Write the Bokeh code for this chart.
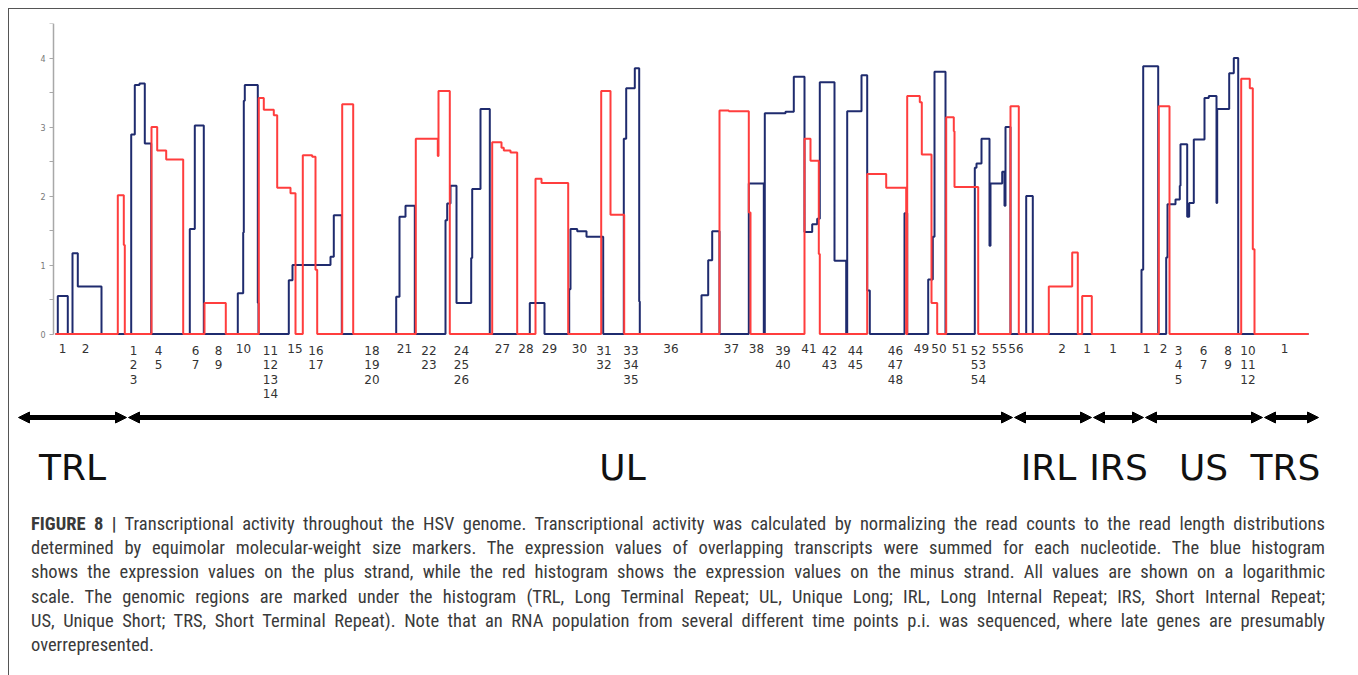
from bokeh.plotting import figure
from bokeh.models import (Range1d, FixedTicker, Arrow, NormalHead, ColumnDataSource, Div,
                          LabelSet, LinearAxis)
from bokeh.layouts import column
from bokeh.core.properties import value
from bokeh.embed import file_html
from bokeh.resources import INLINE

# ---------------- data (genome position in plot units, log expression) ----------------
blue_x = [55, 57.3, 67.3, 72, 77.3, 101, 130.7, 134.3, 139, 144.3, 150.7, 189.3, 194.3, 203.3,
          237.3, 242.7, 243.3, 244.3, 257.3, 258, 288.3, 292, 330, 333.3, 341.3, 395.7, 399, 405,
          414.3, 445, 446.7, 450, 456, 470.7, 471.7, 480, 489.3, 529.3, 544, 568.7, 570, 576.7,
          586, 602.7, 623.3, 625.7, 634.3, 638.7, 639.3, 701, 707.7, 711.7, 719, 748.3, 763.3,
          764.3, 785, 793.3, 804, 811.7, 816.7, 819.3, 834, 845.7, 846.7, 861, 866.7, 869.3, 904,
          906.7, 927.7, 932.3, 934, 945, 974.3, 976, 981, 989, 990, 1001.7, 1004, 1005, 1010,
          1025.7, 1032.3, 1141, 1142.7, 1157.7, 1165.7, 1167, 1175, 1179.3, 1180, 1186.7, 1188.7,
          1193.3, 1204, 1208.3, 1216, 1216.7, 1228.7, 1233.3, 1237.7, 1308]
blue_y = [0, 0.55, 0, 1.17, 0.69, 0, 2.89, 3.61, 3.63, 2.76, 0, 1.52, 3.02, 0,
          0.59, 1.47, 3.38, 3.61, 0.45, 0, 0.78, 1.0, 1.12, 1.72, 0, 0.54, 1.70, 1.86,
          0, 1.65, 1.89, 2.15, 0.45, 1.10, 2.10, 3.26, 0, 0.45, 0, 0.65, 1.52, 1.49,
          1.41, 0, 2.83, 3.56, 3.85, 0.47, 0, 0.56, 1.07, 1.49, 0, 2.18, 0,
          3.20, 3.22, 3.73, 1.48, 1.59, 1.67, 3.65, 1.06, 0, 3.23, 3.75, 0.63, 0, 1.75,
          0, 0.79, 1.41, 3.80, 0, 2.41, 2.47, 2.83, 1.28, 2.18, 2.35, 1.86, 3.0, 0,
          2.0, 0, 0.93, 3.88, 0, 1.11, 1.88, 1.95, 2.15, 2.75, 1.70, 1.90,
          2.82, 3.42, 3.45, 1.90, 3.26, 3.78, 4.0, 0, 0]

red_x = [55, 117.3, 123.3, 124.3, 151, 156.7, 165.7, 182.7, 204, 225.3, 258.3, 263.3, 273.3,
         276.7, 290, 295, 302.3, 311.7, 315, 316.7, 341.7, 352.7, 415.3, 437.3, 438, 449.3,
         491.7, 501, 503.3, 510, 516.7, 535, 541, 567.7, 600.7, 610, 623.7, 719, 728.3, 748.3,
         750, 804, 810, 818.3, 819.3, 866.7, 885.7, 905.7, 906.7, 919.3, 921.3, 931, 936.7,
         945.7, 953.3, 954, 977.7, 1010, 1018.3, 1048.3, 1071.7, 1077.3, 1081.7, 1091.3,
         1158.3, 1169, 1240.7, 1249.3, 1252.3, 1254, 1308]
red_y = [0, 2.01, 1.29, 0, 3.0, 2.66, 2.53, 0, 0.45, 0, 3.42, 3.25, 3.17,
         2.12, 2.04, 0, 2.59, 2.57, 0.93, 0, 3.33, 0, 2.83, 2.58, 3.52, 0,
         2.78, 2.70, 2.66, 2.63, 0, 2.25, 2.19, 0, 3.52, 1.73, 0, 3.24, 3.23, 1.76,
         0, 2.83, 2.51, 1.16, 0, 2.32, 2.12, 0, 3.45, 3.36, 2.60, 0.45, 0,
         3.14, 2.94, 2.13, 0, 3.30, 0, 0.69, 1.18, 0, 0.55, 0,
         3.30, 0, 3.70, 3.56, 1.23, 0, 0]

gene_x = [62, 85, 133, 158, 195, 218, 243, 270, 294.5, 315.5, 371.5, 404, 428.5, 461, 502,
          525.5, 549, 579, 603.5, 630.5, 670.5, 731, 756, 782.5, 808.5, 829, 855, 895, 921,
          938.5, 959, 978, 999, 1015.5, 1061.5, 1086.5, 1112.5, 1146, 1163, 1178, 1203,
          1227.5, 1247.5, 1284]
gene_labels = ["1", "2", "1\n2\n3", "4\n5", "6\n7", "8\n9", "10", "11\n12\n13\n14", "15",
               "16\n17", "18\n19\n20", "21", "22\n23", "24\n25\n26", "27", "28", "29", "30",
               "31\n32", "33\n34\n35", "36", "37", "38", "39\n40", "41", "42\n43", "44\n45",
               "46\n47\n48", "49", "50", "51", "52\n53\n54", "55", "56", "2", "1", "1", "1",
               "2", "3\n4\n5", "6\n7", "8\n9", "10\n11\n12", "1"]

region_names = ["TRL", "UL", "IRL", "IRS", "US", "TRS"]
region_start = [18, 128, 1014, 1093, 1145, 1264]
region_end = [126, 1012, 1091, 1143, 1262, 1318]
region_label_x = [72, 622, 1048, 1118, 1203, 1285]

y_ticks = [0, 1, 2, 3, 4]
y_minor_ticks = [0.5, 1.5, 2.5, 3.5, 4.5]

caption_lines = [
    "<b>FIGURE 8 |</b> Transcriptional activity throughout the HSV genome. Transcriptional activity was calculated by normalizing the read counts to the read length distributions",
    "determined by equimolar molecular-weight size markers. The expression values of overlapping transcripts were summed for each nucleotide. The blue histogram",
    "shows the expression values on the plus strand, while the red histogram shows the expression values on the minus strand. All values are shown on a logarithmic",
    "scale. The genomic regions are marked under the histogram (TRL, Long Terminal Repeat; UL, Unique Long; IRL, Long Internal Repeat; IRS, Short Internal Repeat;",
    "US, Unique Short; TRS, Short Terminal Repeat). Note that an RNA population from several different time points p.i. was sequenced, where late genes are presumably",
    "overrepresented.",
]

# ---------------- styling / layout ----------------
BLUE = "#1f2b6e"
RED = "#ff3d3d"
PX_PER_UNIT = 69.0
FIG_W = 1346
F1_H = 391
F1_TOP = 14
Y_MAX = 4.5
y_min = Y_MAX - (F1_H - F1_TOP) / PX_PER_UNIT
X0 = 9
X1 = X0 + FIG_W
AXIS_X = 53

p1 = figure(width=FIG_W, height=F1_H, output_backend="svg", toolbar_location=None,
            x_range=Range1d(X0, X1), y_range=Range1d(y_min, Y_MAX),
            x_axis_location=None, y_axis_location=None, min_border=0,
            min_border_top=F1_TOP, outline_line_color=None,
            background_fill_color="white", border_fill_color="white")
p1.grid.visible = False
ax = LinearAxis(fixed_location=AXIS_X)
ax.ticker = FixedTicker(ticks=y_ticks, minor_ticks=y_minor_ticks)
ax.bounds = (0, Y_MAX)
ax.axis_line_color = "#a8a8a8"
ax.axis_line_width = 1.5
ax.major_tick_line_color = "#a8a8a8"
ax.minor_tick_line_color = "#a8a8a8"
ax.major_tick_in = 0
ax.major_tick_out = 4
ax.minor_tick_in = 0
ax.minor_tick_out = 4
ax.major_label_text_font = "DejaVu Sans"
ax.major_label_text_font_size = "8px"
ax.major_label_text_color = "#777777"
ax.major_label_standoff = 4
p1.add_layout(ax, "left")

p1.step(blue_x, blue_y, mode="after", line_color=BLUE, line_width=2)
p1.step(red_x, red_y, mode="after", line_color=RED, line_width=2)

GENE_Y = (0 - 9.5 / PX_PER_UNIT)
p1.text(x=gene_x, y=[GENE_Y] * len(gene_x), text=gene_labels,
        text_font=value("DejaVu Sans"), text_font_size="12px", text_align="center",
        text_baseline="top", text_line_height=1.04, text_color="#333333")

# second panel: genome regions
F2_H = 95
p2 = figure(width=FIG_W, height=F2_H, output_backend="svg", toolbar_location=None,
            x_range=Range1d(X0, X1), y_range=Range1d(F2_H, 0),
            x_axis_location=None, y_axis_location=None, min_border=0,
            outline_line_color=None, background_fill_color="white",
            border_fill_color="white")
p2.grid.visible = False
arrow_src = ColumnDataSource(dict(x0=region_start, x1=region_end, y=[17] * len(region_start)))
p2.add_layout(Arrow(start=NormalHead(size=11, fill_color="black", line_color="black"),
                    end=NormalHead(size=11, fill_color="black", line_color="black"),
                    x_start="x0", y_start="y", x_end="x1", y_end="y", source=arrow_src,
                    line_width=5, line_color="black"))
label_src = ColumnDataSource(dict(x=region_label_x, y=[79] * len(region_names),
                                  text=region_names))
p2.add_layout(LabelSet(x="x", y="y", text="text", source=label_src,
                       text_font=value("DejaVu Sans"), text_font_size="36px",
                       text_align="center", text_baseline="alphabetic",
                       text_color="#111111"))

line_html = []
for i, ln in enumerate(caption_lines):
    last = "justify" if i < len(caption_lines) - 1 else "left"
    line_html.append(f'<div style="text-align:justify;text-align-last:{last};">{ln}</div>')
cap_html = ('<div style="padding:12px 0 0 17px;width:1311px;'
            "font-family:'Liberation Sans Narrow','Roboto Condensed','Liberation Sans',sans-serif;"
            'font-size:18.5px;line-height:24.2px;color:#3a3a3a;">' + "".join(line_html) + "</div>")
cap = Div(text=cap_html, width=FIG_W, height=178)

layout = column(p1, p2, cap, margin=(8, 0, 0, 8),
                styles={"border-top": "1px solid #555555", "border-left": "1px solid #555555",
                        "border-right": "1px solid #555555"})

open("out.html", "w").write(file_html(layout, INLINE))
